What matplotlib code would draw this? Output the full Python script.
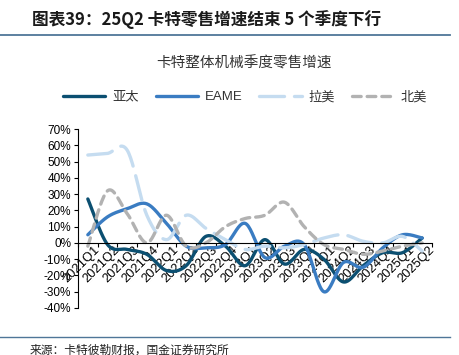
import numpy as np
import matplotlib
matplotlib.use("Agg")
import matplotlib.pyplot as plt
from matplotlib.lines import Line2D
from matplotlib.transforms import ScaledTranslation

plt.rcParams['font.family'] = ['Liberation Sans', 'Noto Sans CJK SC', 'DejaVu Sans']

# 数据（读图估计，%）
quarters = ['2021Q1', '2021Q2', '2021Q3', '2021Q4', '2022Q1', '2022Q2', '2022Q3', '2022Q4',
            '2023Q1', '2023Q2', '2023Q3', '2023Q4', '2024Q1', '2024Q2', '2024Q3', '2024Q4',
            '2025Q1', '2025Q2']
apac = [27, -1, -4, -7, -17, -14, 4, -2, -14, 2, -13, -4, -10, -24, -14, -6, -6, 3]
eame = [5, 16, 21, 24, 12, -2, -3, -1, 12, -9, -2, -1, -30, -12, -15, -3, 5, 3]
latam = [54, 55, 57, 17, 2, 17, 9, 2, -4, -2, -3, -1, 3, 5, 1, 0, 4, -5]
na = [-2, 32, 18, 0, 17, -2, 0, 10, 15, 17, 25, 10, -1, -4, -7, -5, -2, 0]

names = ['亚太', 'EAME', '拉美', '北美']
colors = ['#0b4f71', '#3a7cc2', '#c5dcf0', '#b2b2b2']
dash_list = [None, None, (7.5, 3.0), (2.6, 1.8)]


def smooth(ys, n=24):
    # Excel 风格平滑线（Catmull-Rom 贝塞尔）
    pts = np.column_stack([np.arange(len(ys), dtype=float), np.array(ys, dtype=float)])
    xs_out, ys_out = [], []
    for i in range(len(pts) - 1):
        p0 = pts[i - 1] if i > 0 else pts[i]
        p1 = pts[i]
        p2 = pts[i + 1]
        p3 = pts[i + 2] if i + 2 < len(pts) else pts[i + 1]
        c1 = p1 + (p2 - p0) / 6
        c2 = p2 - (p3 - p1) / 6
        t = np.linspace(0, 1, n)[:, None]
        b = ((1 - t) ** 3) * p1 + 3 * ((1 - t) ** 2) * t * c1 + 3 * (1 - t) * t ** 2 * c2 + t ** 3 * p2
        if i > 0:
            b = b[1:]
        xs_out.append(b[:, 0])
        ys_out.append(b[:, 1])
    return np.concatenate(xs_out), np.concatenate(ys_out)


fig = plt.figure(figsize=(4.6, 3.55), dpi=100)
ax = fig.add_axes([78 / 460, 1 - 308 / 355, (432 - 78) / 460, (308 - 129) / 355])

# 先设坐标轴位置（set_position 会重置刻度）
ax.spines['top'].set_visible(False)
ax.spines['right'].set_visible(False)
ax.spines['bottom'].set_position(('data', 0))
ax.spines['bottom'].set_linewidth(0.8)
ax.spines['left'].set_linewidth(0.8)

lw = 2.4
for ys, c, d in zip([apac, eame, latam, na], colors, dash_list):
    sx, sy = smooth(ys)
    line, = ax.plot(sx, sy, color=c, lw=lw, solid_capstyle='round', dash_capstyle='round')
    if d is not None:
        line.set_dashes(d)

ax.set_xlim(-0.5, len(quarters) - 0.5)
ax.set_ylim(-40, 70)
ax.set_yticks(range(-40, 71, 10))
ax.set_yticklabels([f'{v}%' for v in range(-40, 71, 10)], fontsize=8.5)
ax.set_xticks(np.arange(-0.5, len(quarters), 1))
ax.set_xticklabels([])
ax.set_xticks(np.arange(len(quarters)), minor=True)
ax.set_xticklabels(quarters, minor=True, rotation=45, ha='right', va='top',
                   rotation_mode='anchor', fontsize=9.3)
ax.tick_params(axis='x', which='minor', length=0, pad=1)
ax.tick_params(axis='x', which='major', length=3, direction='out', width=0.8)
ax.tick_params(axis='y', length=3, direction='out', width=0.8, pad=2)

# 标签略向右偏
offset = ScaledTranslation(6 / 100, 0, fig.dpi_scale_trans)
for lab in ax.xaxis.get_minorticklabels():
    lab.set_transform(lab.get_transform() + offset)

# 图例
handles = []
for c, d in zip(colors, dash_list):
    h = Line2D([0], [0], color=c, lw=lw, solid_capstyle='round', dash_capstyle='round')
    if d is not None:
        h.set_dashes(d)
    handles.append(h)
fig.legend(handles, names, loc='center', bbox_to_anchor=(0.533, 1 - 97 / 355), ncol=4,
           frameon=False, handlelength=3.2, columnspacing=1.3, handletextpad=0.5,
           labelcolor='#333333',
           prop={'family': ['Liberation Sans', 'Noto Sans CJK SC'], 'size': 9.5})

# 标题与注释
fig.text(32 / 460, 1 - 20 / 355, '图表39：25Q2 卡特零售增速结束 5 个季度下行', fontsize=12,
         fontweight='bold', color='#1a1a1a', va='center', ha='left',
         family=['Noto Sans CJK SC', 'DejaVu Sans'])
fig.add_artist(Line2D([0, 450 / 460], [1 - 35 / 355, 1 - 35 / 355], color='#4f7698', lw=1.3))
fig.text(244 / 460, 1 - 63 / 355, '卡特整体机械季度零售增速', fontsize=10.5, color='#333333',
         ha='center', va='center', family=['Noto Sans CJK SC', 'DejaVu Sans'])
fig.add_artist(Line2D([0, 450 / 460], [1 - 337 / 355, 1 - 337 / 355], color='#4f7698', lw=1.0))
fig.text(30 / 460, 1 - 350 / 355, '来源：卡特彼勒财报，国金证券研究所', fontsize=8.5, color='#222222',
         ha='left', va='center', family=['Noto Sans CJK SC', 'DejaVu Sans'])

fig.savefig('out.png', dpi=100)
